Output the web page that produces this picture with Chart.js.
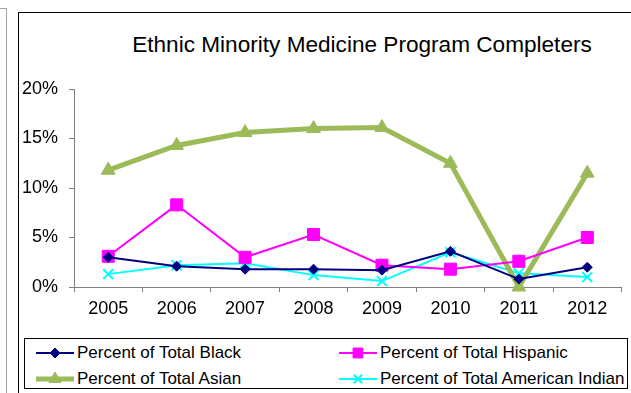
<!DOCTYPE html>
<html>
<head>
<meta charset="utf-8">
<script src="https://cdn.jsdelivr.net/npm/chart.js@4/dist/chart.umd.min.js"></script>
<style>
  body { margin: 0; width: 631px; height: 393px; overflow: hidden; background: #fff; position: relative; font-family: "Liberation Sans", Arial, sans-serif; }
  #edge { position: absolute; left: -1px; top: 8px; width: 7px; height: 400px; border-top: 1px solid #a0a0a0; border-right: 1px solid #a0a0a0; }
  #frame { position: absolute; left: 18px; top: 12px; width: 700px; height: 500px; border: 1px solid #000; }
  #title { position: absolute; left: 112px; top: 32px; width: 500px; text-align: center; font-size: 22.6px; color: #000; white-space: nowrap; }
  #wrap { position: absolute; left: 0; top: 0; width: 631px; height: 330px; }
  #legend { position: absolute; left: 24px; top: 338px; width: 604px; height: 51px; border: 1px solid #000; box-sizing: border-box; }
  .item { position: absolute; display: flex; align-items: center; font-size: 17px; color: #000; height: 20px; white-space: nowrap; }
  .item canvas { margin-right: 3px; }
</style>
</head>
<body>
<div id="edge"></div>
<div id="frame"></div>
<div id="title">Ethnic Minority Medicine Program Completers</div>
<div id="wrap"><canvas id="chart"></canvas></div>
<div id="legend"></div>
<script>
const years = ['2005', '2006', '2007', '2008', '2009', '2010', '2011', '2012'];
const black = [3.0, 2.1, 1.8, 1.8, 1.7, 3.6, 0.8, 2.0];
const hispanic = [3.1, 8.3, 3.0, 5.3, 2.2, 1.8, 2.6, 5.0];
const asian = [11.8, 14.3, 15.6, 16.0, 16.1, 12.5, 0.0, 11.5];
const amIndian = [1.3, 2.2, 2.4, 1.2, 0.6, 3.5, 1.4, 1.0];

const axisColor = '#808080';

function series(label, data, color, width, style, radius) {
    return {
        label,
        data,
        borderColor: color,
        backgroundColor: color,
        borderWidth: width,
        pointStyle: style,
        pointRadius: radius,
        pointHoverRadius: radius,
        pointBorderWidth: style === 'crossRot' ? 2 : 1,
        pointBackgroundColor: color,
        pointBorderColor: color,
        tension: 0,
        clip: false,
    };
}

const datasets = [
    series('Percent of Total Black', black, '#000080', 2, 'rectRot', 5),
    series('Percent of Total Hispanic', hispanic, '#ff00ff', 2, 'rect', 8.5),
    series('Percent of Total Asian', asian, '#9bbb59', 5, 'triangle', 8),
    series('Percent of Total American Indian', amIndian, '#00ffff', 2, 'crossRot', 7),
];

const chart = new Chart(document.getElementById('chart'), {
    type: 'line',
    data: { labels: years, datasets },
    options: {
        responsive: true,
        maintainAspectRatio: false,
        animation: false,
        layout: { padding: { top: 89, right: 8, left: 0, bottom: 0 } },
        plugins: { legend: { display: false }, title: { display: false }, tooltip: { enabled: false } },
        scales: {
            x: {
                offset: true,
                afterFit: s => { s.height = 43; },
                grid: { offset: true, drawOnChartArea: false, drawTicks: true, tickLength: 5, color: axisColor },
                border: { display: true, color: axisColor, width: 1 },
                ticks: { color: '#000', font: { size: 18, family: '"Liberation Sans", Arial' }, padding: 6, maxRotation: 0 },
            },
            y: {
                min: 0,
                max: 20,
                afterFit: s => { s.width = 74; },
                grid: { drawOnChartArea: false, drawTicks: true, tickLength: 5, color: axisColor },
                border: { display: true, color: axisColor, width: 1 },
                ticks: { stepSize: 5, color: '#000', font: { size: 18, family: '"Liberation Sans", Arial' }, padding: 11, callback: v => `${v}%` },
            },
        },
    },
});

// legend in two columns, markers drawn with Chart.js' own point helper
const legendPos = [[11, 4], [314, 4], [11, 30], [314, 30]];
const legendRadius = { rectRot: 5, rect: 7, triangle: 7, crossRot: 6 };
const legend = document.getElementById('legend');
datasets.forEach((ds, i) => {
    const item = document.createElement('div');
    item.className = 'item';
    item.style.left = legendPos[i][0] + 'px';
    item.style.top = legendPos[i][1] + 'px';
    const c = document.createElement('canvas');
    c.width = 38; c.height = 20;
    const ctx = c.getContext('2d');
    ctx.strokeStyle = ds.borderColor;
    ctx.fillStyle = ds.backgroundColor;
    ctx.lineWidth = ds.borderWidth;
    ctx.beginPath();
    ctx.moveTo(0, 10); ctx.lineTo(38, 10);
    ctx.stroke();
    ctx.lineWidth = ds.pointBorderWidth;
    Chart.helpers.drawPoint(ctx, { pointStyle: ds.pointStyle, radius: legendRadius[ds.pointStyle], borderWidth: ds.pointBorderWidth, rotation: 0 }, 19, 10);
    item.appendChild(c);
    const t = document.createElement('span');
    t.textContent = ds.label;
    item.appendChild(t);
    legend.appendChild(item);
});
</script>
</body>
</html>
